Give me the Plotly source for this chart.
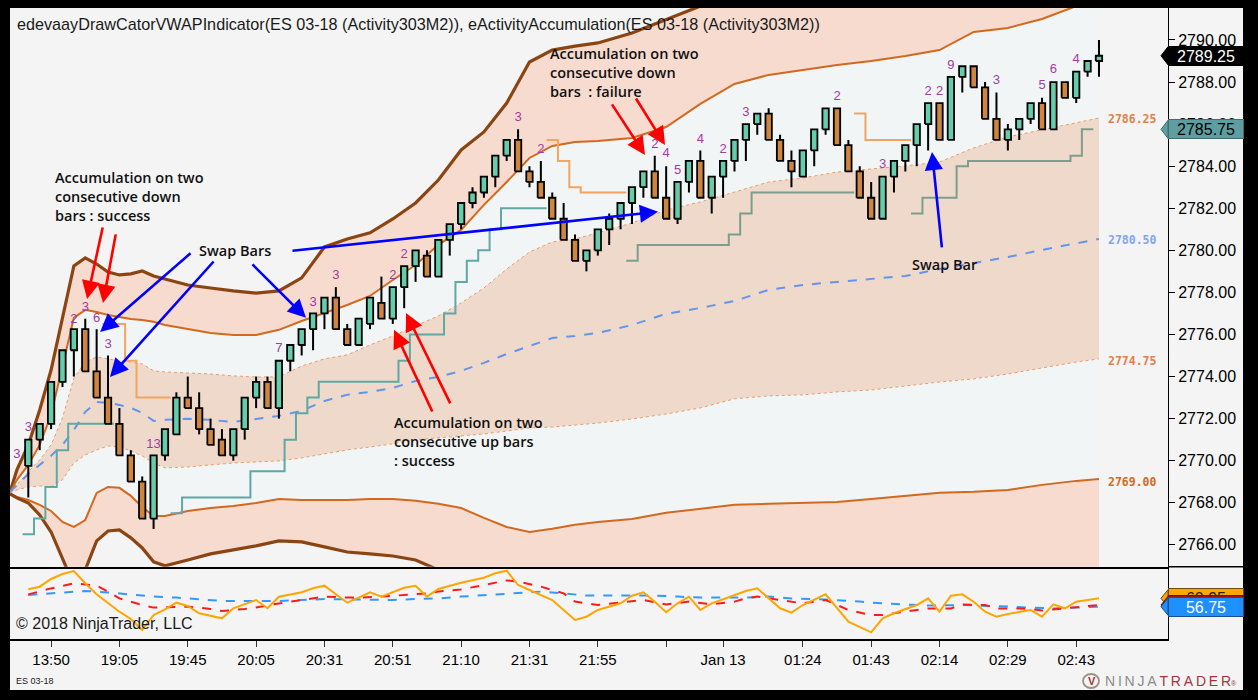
import plotly.graph_objects as go

# ---------------- data ----------------
# ES 03-18 bars, index 0 = first drawn bar
opens = [
    2769.75, 2771.0, 2771.75, 2773.75, 2775.25, 2776.25, 2774.25, 2773.0, 2771.75, 2770.25,
    2769.0, 2767.25, 2770.25, 2771.25, 2773.0, 2772.5, 2771.5, 2771.0, 2770.25, 2771.5,
    2773.0, 2773.75, 2772.5, 2774.75, 2775.5, 2776.25, 2777.0, 2777.75, 2776.25, 2775.5,
    2776.5, 2777.5, 2776.75, 2778.25, 2779.25, 2779.75, 2778.75, 2780.5, 2781.25, 2782.25,
    2782.75, 2783.5, 2784.5, 2785.25, 2783.75, 2783.25, 2782.5, 2781.5, 2780.5, 2779.5,
    2780.0, 2781.0, 2781.5, 2782.25, 2783.0, 2783.75, 2782.5, 2781.5, 2783.25, 2784.25,
    2782.5, 2783.5, 2784.25, 2785.25, 2786.0, 2786.5, 2785.25, 2784.25, 2783.5, 2784.75,
    2785.75, 2786.75, 2785.0, 2783.75, 2782.5, 2781.5, 2783.5, 2784.25, 2785.0, 2786.0,
    2787.0, 2785.25, 2788.25, 2788.75, 2787.75, 2786.25, 2785.25, 2785.75, 2786.25, 2787.0,
    2785.75, 2788.0, 2787.25, 2788.5, 2789.0,
]
highs = [
    2771.0, 2771.75, 2773.75, 2775.25, 2776.25, 2776.75, 2776.25, 2775.0, 2772.5, 2770.5,
    2769.25, 2770.25, 2771.5, 2773.25, 2774.0, 2773.25, 2772.0, 2771.5, 2771.5, 2773.0,
    2774.0, 2774.0, 2774.75, 2775.5, 2776.25, 2777.0, 2777.75, 2778.25, 2776.5, 2776.75,
    2777.75, 2778.75, 2778.25, 2779.25, 2780.0, 2780.0, 2780.5, 2781.25, 2782.25, 2783.0,
    2783.5, 2784.5, 2785.25, 2785.75, 2784.0, 2784.25, 2782.75, 2782.25, 2780.75, 2780.0,
    2781.0, 2781.75, 2782.25, 2783.0, 2783.75, 2784.5, 2784.0, 2783.25, 2784.25, 2784.75,
    2783.5, 2784.25, 2785.25, 2786.0, 2786.5, 2786.75, 2785.5, 2784.75, 2784.75, 2785.75,
    2786.75, 2786.75, 2785.25, 2784.0, 2783.25, 2783.5, 2784.25, 2785.0, 2786.0, 2787.0,
    2787.0, 2788.25, 2788.75, 2788.75, 2788.0, 2787.5, 2786.0, 2786.25, 2787.0, 2787.25,
    2788.0, 2788.0, 2788.5, 2789.0, 2790.0,
]
lows = [
    2768.25, 2770.5, 2771.5, 2773.5, 2774.0, 2774.25, 2773.0, 2771.75, 2770.25, 2769.0,
    2767.25, 2766.75, 2770.0, 2771.25, 2772.5, 2771.25, 2770.75, 2770.25, 2770.0, 2771.0,
    2772.5, 2772.5, 2772.0, 2774.25, 2775.0, 2775.25, 2776.25, 2776.25, 2775.5, 2775.5,
    2776.25, 2776.75, 2776.5, 2777.25, 2778.5, 2778.75, 2778.75, 2779.75, 2781.0, 2782.0,
    2782.5, 2783.0, 2784.25, 2783.75, 2783.0, 2782.5, 2781.5, 2780.5, 2779.5, 2779.0,
    2779.75, 2780.25, 2781.0, 2781.25, 2782.5, 2782.5, 2781.5, 2781.25, 2782.75, 2782.5,
    2781.75, 2782.5, 2783.75, 2784.25, 2785.5, 2785.25, 2784.25, 2783.0, 2783.5, 2784.0,
    2785.5, 2785.0, 2783.75, 2782.5, 2781.5, 2781.5, 2782.75, 2783.75, 2784.0, 2784.75,
    2785.25, 2785.25, 2787.5, 2787.75, 2786.25, 2785.25, 2784.75, 2785.25, 2786.0, 2785.75,
    2785.75, 2787.25, 2787.0, 2788.25, 2788.25,
]
closes = [
    2771.0, 2771.75, 2773.75, 2775.25, 2776.25, 2774.25, 2773.0, 2771.75, 2770.25, 2769.0,
    2767.25, 2770.25, 2771.5, 2773.0, 2772.5, 2771.5, 2770.75, 2770.25, 2771.5, 2773.0,
    2773.75, 2772.5, 2774.75, 2775.5, 2776.25, 2777.0, 2777.75, 2776.25, 2775.5, 2776.75,
    2777.75, 2776.75, 2778.25, 2779.25, 2780.0, 2778.75, 2780.5, 2781.25, 2782.25, 2782.75,
    2783.5, 2784.5, 2785.25, 2783.75, 2783.25, 2782.5, 2781.5, 2780.5, 2779.5, 2780.0,
    2781.0, 2781.5, 2782.25, 2783.0, 2783.75, 2782.5, 2781.5, 2783.25, 2784.25, 2782.5,
    2783.5, 2784.25, 2785.25, 2786.0, 2786.5, 2785.25, 2784.25, 2783.75, 2784.75, 2785.75,
    2786.75, 2785.0, 2783.75, 2782.5, 2781.5, 2783.5, 2784.25, 2785.0, 2786.0, 2787.0,
    2785.25, 2788.25, 2788.75, 2787.75, 2786.25, 2785.25, 2785.75, 2786.25, 2787.0, 2785.75,
    2788.0, 2787.25, 2788.5, 2789.0, 2789.25,
]

# accumulation counts printed above bars (bar, text, price of the number)
count_bars = [-1, 0, 4, 5, 6, 7, 11, 22, 25, 27, 32, 33, 43, 45, 55, 56, 57, 59, 61, 63,
              71, 75, 79, 80, 81, 85, 89, 90, 92]
count_text = ["3", "3", "2", "3", "6", "3", "13", "7", "3", "3", "2", "2", "3", "2", "2", "4", "5", "4", "2", "3",
              "2", "3", "2", "2", "9", "3", "5", "6", "4"]
count_price = [2770.27, 2771.56, 2776.72, 2777.28, 2776.77, 2775.50, 2770.75, 2775.30, 2777.51, 2778.78,
               2778.78, 2779.78, 2786.28, 2784.77, 2785.01, 2784.57, 2783.79, 2785.28, 2784.77, 2786.54,
               2787.30, 2784.06, 2787.54, 2787.54, 2788.76, 2788.05, 2787.81, 2788.57, 2789.08]

# VWAP and its bands, sampled at these bar positions
band_bars = [-1.6, -1, 0, 1, 2, 3, 4, 5, 6, 7, 8, 9, 10, 11, 12,
             14, 16, 18, 20, 22, 24, 26, 28, 30, 32, 34, 36, 38, 40, 42, 44, 46, 48, 50,
             53, 56, 59, 62, 65, 68, 71, 74, 77, 80, 83, 86, 89, 92, 94]
vwap = [2768.52, 2768.85, 2769.37, 2769.80, 2770.23, 2770.75, 2771.46, 2772.32, 2772.79, 2772.75,
        2772.65, 2772.51, 2772.27, 2771.89, 2771.94,
        2771.99, 2771.94, 2771.84, 2771.99, 2772.13, 2772.37, 2772.84, 2773.13, 2773.27, 2773.46,
        2773.79, 2773.98, 2774.27, 2774.65, 2775.07, 2775.45, 2775.83, 2775.93, 2776.07,
        2776.45, 2776.98, 2777.26, 2777.59, 2778.12, 2778.35, 2778.50, 2778.64, 2778.78, 2779.11,
        2779.40, 2779.68, 2780.02, 2780.35, 2780.54]
upper1 = [2768.47, 2768.85, 2769.47, 2770.04, 2770.75, 2772.03, 2773.93, 2774.69, 2774.93, 2774.84,
          2774.74, 2774.69, 2774.60, 2774.27, 2774.22,
          2774.17, 2774.12, 2774.03, 2773.98, 2773.98, 2774.50, 2774.84, 2775.03, 2775.50, 2775.93,
          2776.41, 2776.88, 2777.50, 2778.21, 2779.11, 2779.92, 2780.40, 2780.54, 2780.83,
          2781.30, 2781.92, 2782.30, 2782.77, 2783.25, 2783.44, 2783.72, 2783.87, 2784.01, 2784.20,
          2784.87, 2785.39, 2785.72, 2786.05, 2786.29]
lower1 = [2768.47, 2768.61, 2768.75, 2768.80, 2768.75, 2769.09, 2769.89, 2770.27, 2770.51, 2770.70,
          2770.65, 2770.46, 2770.23, 2769.89, 2769.66,
          2769.70, 2769.80, 2769.89, 2769.94, 2769.99, 2770.13, 2770.32, 2770.51, 2770.65, 2770.80,
          2770.99, 2771.08, 2771.18, 2771.27, 2771.41, 2771.56, 2771.60, 2771.70, 2771.79,
          2771.98, 2772.22, 2772.51, 2772.94, 2773.08, 2773.13, 2773.27, 2773.36, 2773.55, 2773.74,
          2773.89, 2774.12, 2774.41, 2774.69, 2774.84]
upper2 = [2768.47, 2769.09, 2769.80, 2770.75, 2772.18, 2774.55, 2776.79, 2777.17, 2777.07, 2776.93,
          2776.83, 2776.74, 2776.69, 2776.60, 2776.45,
          2776.26, 2776.07, 2775.98, 2775.98, 2776.22, 2776.64, 2777.02, 2777.40, 2777.83, 2778.59,
          2779.30, 2780.26, 2780.97, 2782.16, 2783.25, 2784.39, 2784.96, 2785.15, 2785.20,
          2785.34, 2785.86, 2786.96, 2787.91, 2788.34, 2788.57, 2788.81, 2789.00, 2789.24, 2789.52,
          2790.38, 2790.57, 2791.00, 2791.61, 2791.90]
lower2 = [2768.42, 2768.28, 2768.13, 2767.90, 2767.61, 2767.09, 2766.85, 2767.18, 2768.47, 2768.75,
          2768.71, 2768.33, 2767.80, 2767.37, 2767.37,
          2767.61, 2767.75, 2767.85, 2767.99, 2768.18, 2768.13, 2768.13, 2768.13, 2768.18, 2768.18,
          2768.09, 2767.95, 2767.75, 2767.28, 2766.85, 2766.61, 2766.76, 2766.95, 2767.09,
          2767.23, 2767.52, 2767.71, 2767.90, 2767.95, 2767.99, 2768.04, 2768.18, 2768.33, 2768.47,
          2768.52, 2768.61, 2768.85, 2769.04, 2769.13]
upper3 = [2768.52, 2769.56, 2770.75, 2772.41, 2774.31, 2776.79, 2779.26, 2779.64, 2779.35, 2778.97,
          2778.83, 2778.88, 2779.02, 2778.78, 2778.64,
          2778.35, 2778.21, 2778.07, 2777.97, 2778.07, 2778.69, 2780.16, 2780.54, 2780.83, 2781.49,
          2782.25, 2783.34, 2784.77, 2785.63, 2787.00, 2788.95, 2789.52, 2789.71, 2789.86,
          2790.33, 2790.95, 2791.61, 2792.38, 2792.85, 2793.23, 2793.56, 2793.80, 2794.04, 2794.37,
          2794.99, 2795.23, 2795.61, 2796.18, 2796.42]
lower3 = [2768.42, 2768.23, 2767.99, 2767.42, 2766.61, 2765.38, 2764.09, 2764.81, 2766.19, 2766.66,
          2766.71, 2766.33, 2765.85, 2765.19, 2765.00,
          2765.28, 2765.57, 2765.76, 2765.95, 2766.19, 2766.14, 2765.90, 2765.66, 2765.57, 2765.47,
          2765.28, 2764.81, 2764.33, 2763.86, 2763.38, 2762.91, 2762.67, 2762.53, 2762.43,
          2762.34, 2762.34, 2762.43, 2762.43, 2762.48, 2762.53, 2762.62, 2762.72, 2762.81, 2762.91,
          2763.00, 2763.10, 2763.19, 2763.29, 2763.38]
band_end_labels = ["2786.25", "2780.50", "2774.75", "2769.00"]

# accumulation step lines: first bar, then one value per bar
buy_a_start, buy_a = 0, [2766.5, 2767.25, 2768.75, 2770.5, 2771.75, 2771.75, 2771.75, 2771.75]
sell_a_start, sell_a = 7, [2776.5, 2776.5, 2774.75, 2773.0, 2773.0, 2773.0]
buy_b_start, buy_b = 13, [2767.5] + [2768.25] * 6 + [2769.5] * 3 + [2771.0, 2772.25, 2773.0] \
    + [2773.75] * 7 + [2774.75] + [2776.0] * 3 + [2777.0, 2778.5, 2779.5, 2780.0, 2781.0] + [2782.0] * 4
sell_b_start, sell_b = 46, [2785.25, 2784.25, 2783.0, 2782.75, 2782.75, 2782.75, 2782.75]
buy_c_start, buy_c = 53, [2779.5] + [2780.25] * 8 + [2780.75, 2781.75] + [2782.75] * 9
sell_c_start, sell_c = 73, [2786.5, 2785.25, 2785.25, 2785.25, 2785.25]
buy_d_start, buy_d = 78, [2781.75, 2782.5, 2782.5, 2782.5, 2784.0] + [2784.25] * 9 + [2784.5, 2785.75]

# lower panel oscillator
osc_fast_bars = [0, 1, 2, 3, 4, 5, 6, 7, 8, 9, 10, 11, 12, 13, 14, 15, 17, 18, 20, 21, 22, 24, 25, 26, 27,
                 28, 29, 30, 31, 32, 33, 34, 35, 36, 38, 40, 41, 42, 43, 44, 46, 47, 48, 49, 50, 52, 53,
                 54, 55, 56, 57, 58, 59, 60, 62, 63, 64, 65, 66, 67, 68, 70, 71, 72, 74, 75, 76, 78, 79,
                 80, 81, 82, 83, 84, 85, 86, 88, 89, 90, 91, 92, 94]
osc_fast = [65.45, 66.75, 70.6, 73.1, 74.6, 68.45, 62.95, 58.45, 54.25, 50.6, 45.1, 52.6, 55.45, 58.75,
            57.1, 53.45, 50.95, 55.95, 60.1, 55.95, 61.75, 63.95, 65.95, 67.25, 62.95, 58.75, 61.25,
            63.95, 61.75, 63.95, 66.25, 67.25, 61.75, 65.6, 68.75, 71.25, 73.45, 74.75, 67.6, 65.1,
            60.1, 55.1, 50.1, 51.75, 55.1, 58.45, 62.25, 63.95, 59.25, 53.95, 58.45, 61.75, 55.1,
            58.45, 62.6, 64.6, 65.95, 60.95, 55.95, 53.75, 57.6, 62.95, 55.95, 49.25, 43.95, 50.95,
            53.45, 57.6, 60.95, 54.25, 62.25, 62.95, 59.25, 54.25, 51.75, 53.1, 55.1, 51.75, 57.95,
            55.95, 59.25, 60.95]
osc_mid_bars = [0, 2, 4, 6, 7, 8, 10, 11, 12, 14, 16, 17, 19, 20, 22, 24, 26, 28, 29, 31, 33, 35, 36,
                38, 40, 42, 43, 45, 47, 48, 50, 53, 54, 56, 58, 60, 62, 63, 64, 66, 68, 70, 72, 74, 75,
                77, 79, 81, 82, 84, 85, 87, 88, 89, 91, 92, 94]
osc_mid = [62.9, 65.9, 68.4, 67.3, 64.3, 60.9, 57.6, 56.3, 56.4, 56.8, 55.6, 54.6, 55.6, 56.4, 58.4,
           60.1, 61.8, 61.3, 61.3, 61.8, 62.6, 63.4, 64.3, 65.4, 67.6, 69.9, 69.3, 66.8, 63.4, 59.3,
           57.6, 59.3, 60.1, 57.9, 59.3, 57.9, 59.3, 60.9, 61.8, 60.1, 58.4, 60.1, 55.1, 52.6, 52.6,
           54.3, 55.9, 55.9, 57.9, 57.6, 55.9, 55.9, 55.6, 54.8, 55.9, 56.3, 57.6]
osc_slow_bars = [0, 2, 5, 7, 9, 11, 13, 15, 17, 19, 22, 24, 26, 28, 30, 32, 34, 36, 38, 41, 43, 45, 47,
                 49, 51, 53, 55, 57, 59, 61, 63, 65, 67, 69, 71, 73, 75, 77, 79, 82, 84, 86, 88, 90, 92, 94]
osc_slow = [62.6, 63.4, 64.6, 63.9, 62.9, 61.8, 61.3, 60.6, 59.6, 59.6, 59.6, 60.1, 60.6, 60.4, 60.4,
            60.1, 60.6, 60.9, 61.8, 62.9, 63.9, 64.3, 63.4, 62.3, 62.3, 62.3, 62.3, 61.8, 61.3, 61.3,
            61.3, 61.8, 60.9, 60.6, 60.1, 59.3, 58.4, 57.9, 57.3, 57.6, 57.3, 56.8, 56.3, 55.9, 56.3, 56.75]

price_ticks = [2766, 2768, 2770, 2772, 2774, 2776, 2778, 2780, 2782, 2784, 2786, 2788, 2790]
time_ticks = [2, 8, 14, 20, 26, 32, 38, 44, 50, 56, 61, 68, 74, 80, 86, 92]
time_labels = ["13:50", "19:05", "19:45", "20:05", "20:31", "20:51", "21:10", "21:31", "21:55", "",
               "Jan 13", "01:24", "01:43", "02:14", "02:29", "02:43"]

# ---------------- layout geometry ----------------
W, H = 1258, 700
XDOM = [10 / W, 1168 / W]
MAIN_DOM = [1 - 566.7 / H, 1 - 8 / H]
LOW_DOM = [1 - 639 / H, 1 - 567.5 / H]
XR = [-1.607, 100.06]
YR = [2764.96, 2791.52]
Y2R = [40.6, 76.35]

PINK = "#f7dbcf"
TAN = "#efd9ca"
LIGHT = "#f1f5f6"
BG = "#f4f4f4"
GREEN = "#66cdaa"
BROWN_C = "#cd853f"
ARIAL = "Liberation Sans, Arial"

fig = go.Figure()

# bands: each one fills down to the one above it
band_specs = [
    (upper3, dict(color="#8b4513", width=3.2), None, None),
    (upper2, dict(color="#d2691e", width=2), "tonexty", PINK),
    (upper1, dict(color="#eb9a68", width=1, dash="dot"), "tonexty", LIGHT),
    (lower1, dict(color="#eb9a68", width=1, dash="dot"), "tonexty", TAN),
    (lower2, dict(color="#d2691e", width=2), "tonexty", LIGHT),
    (lower3, dict(color="#8b4513", width=3.2), "tonexty", PINK),
]
for vals, line, fill, fc in band_specs:
    fig.add_trace(go.Scatter(x=band_bars, y=vals, mode="lines", line=line, fill=fill,
                             fillcolor=fc, hoverinfo="skip", showlegend=False))
fig.add_trace(go.Scatter(x=band_bars, y=vwap, mode="lines",
                         line=dict(color="#6495ed", width=2, dash="dash"),
                         hoverinfo="skip", showlegend=False))


def step_trace(start, vals, color):
    xs = [start + k - 0.5 for k in range(len(vals))] + [start + len(vals) - 0.5]
    ys = vals + [vals[-1]]
    return go.Scatter(x=xs, y=ys, mode="lines", line=dict(color=color, width=2, shape="hv"),
                      hoverinfo="skip", showlegend=False)


for start, vals, color in [(buy_a_start, buy_a, "#5fa8a4"), (buy_b_start, buy_b, "#5fa8a4"),
                           (buy_c_start, buy_c, "#7c9e8c"), (buy_d_start, buy_d, "#7c9e8c"),
                           (sell_a_start, sell_a, "#f2a462"), (sell_b_start, sell_b, "#f2a462"),
                           (sell_c_start, sell_c, "#f2a462")]:
    fig.add_trace(step_trace(start, vals, color))

# candles: wicks then bodies
wx, wy = [], []
for i in range(len(opens)):
    wx += [i, i, None]
    wy += [lows[i], highs[i], None]
fig.add_trace(go.Scatter(x=wx, y=wy, mode="lines", line=dict(color="black", width=2),
                         hoverinfo="skip", showlegend=False))

half = 0.28
for up, color in [(True, GREEN), (False, BROWN_C)]:
    bx, by = [], []
    for i in range(len(opens)):
        if (closes[i] >= opens[i]) != up:
            continue
        lo, hi = min(opens[i], closes[i]), max(opens[i], closes[i])
        bx += [i - half, i + half, i + half, i - half, i - half, None]
        by += [lo, lo, hi, hi, lo, None]
    fig.add_trace(go.Scatter(x=bx, y=by, mode="lines", fill="toself", fillcolor=color,
                             line=dict(color="black", width=1.8), hoverinfo="skip", showlegend=False))

fig.add_trace(go.Scatter(x=count_bars, y=count_price, mode="text", text=count_text,
                         textposition="middle center",
                         textfont=dict(family=ARIAL, size=13, color="#a03ca0"),
                         hoverinfo="skip", showlegend=False))

# lower panel
fig.add_trace(go.Scatter(x=osc_slow_bars, y=osc_slow, mode="lines", xaxis="x2", yaxis="y2",
                         line=dict(color="#3399ff", width=2, dash="dash"), hoverinfo="skip", showlegend=False))
fig.add_trace(go.Scatter(x=osc_mid_bars, y=osc_mid, mode="lines", xaxis="x2", yaxis="y2",
                         line=dict(color="#ff1a1a", width=2, dash="dash"), hoverinfo="skip", showlegend=False))
fig.add_trace(go.Scatter(x=osc_fast_bars, y=osc_fast, mode="lines", xaxis="x2", yaxis="y2",
                         line=dict(color="#ffa500", width=2), hoverinfo="skip", showlegend=False))

annotations = []
shapes = []

# black frame with light inner panel
shapes.append(dict(type="rect", xref="paper", yref="paper", x0=10 / W, x1=1243 / W,
                   y0=1 - 690 / H, y1=1 - 8 / H, fillcolor=BG, line_width=0, layer="below"))
# panel separator runs on under the price scale
shapes.append(dict(type="line", xref="paper", yref="paper", x0=1168 / W, x1=1243 / W,
                   y0=1 - 566.7 / H, y1=1 - 566.7 / H, line=dict(color="black", width=1.5)))

# title and footer texts
annotations.append(dict(xref="paper", yref="paper", x=15 / W, y=1 - 24 / H, xanchor="left",
                        yanchor="middle", showarrow=False,
                        text="edevaayDrawCatorVWAPIndicator(ES 03-18 (Activity303M2)), "
                             "eActivityAccumulation(ES 03-18 (Activity303M2))",
                        font=dict(family=ARIAL, size=16.2, color="#1a1a1a")))
annotations.append(dict(xref="paper", yref="paper", x=14 / W, y=1 - 623 / H, xanchor="left",
                        yanchor="middle", showarrow=False, text="© 2018 NinjaTrader, LLC",
                        font=dict(family=ARIAL, size=16, color="#1a1a1a")))
annotations.append(dict(xref="paper", yref="paper", x=14 / W, y=1 - 681 / H, xanchor="left",
                        yanchor="middle", showarrow=False, text="ES 03-18",
                        font=dict(family=ARIAL, size=9, color="#222")))
thin = "\u2009"
annotations.append(dict(xref="paper", yref="paper", x=1103 / W, y=1 - 681 / H, xanchor="left",
                        yanchor="middle", showarrow=False,
                        text="<span style='color:#8c8c8c'>" + thin.join("NINJA") + thin + "</span>"
                             "<span style='color:#a3343c'>" + thin.join("TRADER") + "</span>"
                             "<span style='color:#a3343c;font-size:7px'>®</span>",
                        font=dict(family=ARIAL, size=14)))
shapes.append(dict(type="circle", xref="paper", yref="paper", x0=1083 / W, x1=1099 / W,
                   y0=1 - 688 / H, y1=1 - 674 / H, line=dict(color="#a09080", width=1.8)))
annotations.append(dict(xref="paper", yref="paper", x=1092 / W, y=1 - 681 / H, xanchor="center",
                        yanchor="middle", showarrow=False,
                        text="<b>V</b>", font=dict(family=ARIAL, size=11, color="#a3343c")))

# end-of-band value labels
for txt, col in zip(band_end_labels, ["#e0804a", "#7fa6f0", "#e0804a", "#d2691e"]):
    annotations.append(dict(x=94.6, y=float(txt), xref="x", yref="y", xanchor="left",
                            yanchor="middle", showarrow=False, text="<b>%s</b>" % txt,
                            font=dict(family="DejaVu Sans Mono", size=11.5, color=col)))


# price tags on the right axis
def tag(yref, val, text, bg, fg, half_h, border=None):
    xa, xt = 1168 / W, 1161 / W
    shapes.append(dict(type="path", xref="paper", yref=yref,
                       path="M %f,%f L %f,%f L %f,%f Z" % (xa, val + half_h, xt, val, xa, val - half_h),
                       fillcolor=bg, line=dict(color=border or bg, width=1)))
    annotations.append(dict(xref="paper", yref=yref, x=xa, y=val, xanchor="left", yanchor="middle",
                            showarrow=False, text=text, bgcolor=bg, bordercolor=border or bg,
                            borderwidth=1, borderpad=0, width=74, height=18,
                            font=dict(family=ARIAL, size=16, color=fg)))


tag("y", 2785.75, "2785.75", "#5f9ea0", "black", 0.43, "#3d6f71")
tag("y", 2789.25, "2789.25", "black", "white", 0.43)
tag("y2", osc_fast[-1], "%.2f" % osc_fast[-1], "#ffa500", "#222", 4.3, "#6b4a10")
tag("y2", osc_mid[-1], " ", "#a01414", "white", 4.3, "#6b1010")  # hidden under the blue tag
tag("y2", osc_slow[-1], "%.2f" % osc_slow[-1], "#1e90ff", "white", 4.3, "#1a4f8a")

# annotation texts
TXT = dict(family="Open Sans", size=14.5, color="#111", weight=600)
annotations += [
    dict(x=2.17, y=2782.56, xref="x", yref="y", xanchor="left", yanchor="middle", align="left",
         showarrow=False, text="Accumulation on two<br>consecutive down<br>bars : success", font=TXT),
    dict(x=18.15, y=2779.97, xref="x", yref="y", showarrow=False, text="Swap Bars", font=TXT),
    dict(x=45.63, y=2788.46, xref="x", yref="y", xanchor="left", yanchor="middle", align="left",
         showarrow=False, text="Accumulation on two<br>consecutive down<br>bars  : failure", font=TXT),
    dict(x=31.93, y=2770.89, xref="x", yref="y", xanchor="left", yanchor="middle", align="left",
         showarrow=False, text="Accumulation on two<br>consecutive up bars<br>: success", font=TXT),
    dict(x=80.4, y=2779.31, xref="x", yref="y", showarrow=False, text="Swap Bar", font=TXT),
]

# arrows: (tail, head)
red_arrows = [((6.56, 2781.16), (5.16, 2777.69)), ((7.70, 2780.83), (6.56, 2777.50)),
              ((35.53, 2772.27), (32.11, 2776.22)), ((37.11, 2772.65), (33.16, 2777.02)),
              ((51.16, 2787.01), (54.14, 2784.53)), ((53.27, 2787.29), (55.90, 2785.01))]
blue_arrows = [((14.37, 2779.92), (6.30, 2776.12)), ((16.39, 2779.54), (7.17, 2773.98)),
               ((19.55, 2779.40), (24.38, 2776.79)), ((23.06, 2779.97), (55.29, 2781.83)),
               ((80.22, 2780.07), (79.34, 2784.68))]
for arrows, color in [(red_arrows, "#ff0000"), (blue_arrows, "#0000ff")]:
    for tail, head in arrows:
        annotations.append(dict(x=head[0], y=head[1], ax=tail[0], ay=tail[1], xref="x", yref="y",
                                axref="x", ayref="y", text="", showarrow=True, arrowhead=2,
                                arrowsize=1.4, arrowwidth=2.6, arrowcolor=color, standoff=0))

fig.update_layout(
    width=W, height=H, margin=dict(l=0, r=0, t=0, b=0),
    paper_bgcolor="black", plot_bgcolor="rgba(0,0,0,0)",
    font=dict(family=ARIAL, color="black"),
    showlegend=False,
    xaxis=dict(domain=XDOM, range=XR, anchor="y", showticklabels=False, showgrid=False,
               zeroline=False, showline=True, linecolor="black", linewidth=1.5, ticks=""),
    yaxis=dict(domain=MAIN_DOM, range=YR, anchor="x", side="right", showgrid=False, zeroline=False,
               showline=True, linecolor="black", linewidth=1, ticks="outside", ticklen=6,
               tickcolor="black", tickvals=price_ticks,
               ticktext=["%.2f" % p for p in price_ticks],
               tickfont=dict(family=ARIAL, size=16, color="black")),
    xaxis2=dict(domain=XDOM, range=XR, anchor="y2", showgrid=False, zeroline=False, showline=True,
                linecolor="black", linewidth=1.5, ticks="outside", ticklen=6, tickcolor="#333",
                tickvals=time_ticks, ticktext=time_labels,
                tickfont=dict(family=ARIAL, size=15, color="black")),
    yaxis2=dict(domain=LOW_DOM, range=Y2R, anchor="x2", side="right", showgrid=False, zeroline=False,
                showline=True, linecolor="black", linewidth=1, showticklabels=False, ticks=""),
    annotations=annotations, shapes=shapes,
)

# page margin off so the figure sits at the window's top-left corner
fig.write_html("out.html", config={"displayModeBar": False},
               post_script="document.body.style.margin='0';document.body.style.overflow='hidden';")
